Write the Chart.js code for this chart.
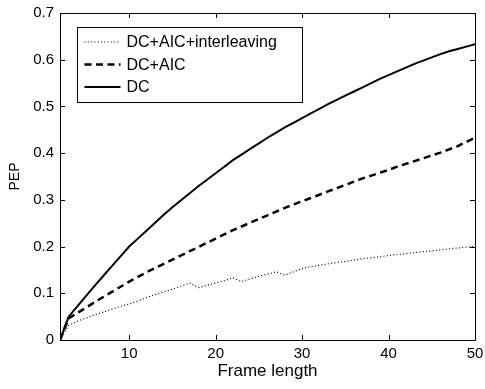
<!DOCTYPE html>
<html>
<head>
<meta charset="utf-8">
<script src="https://cdn.jsdelivr.net/npm/chart.js@4"></script>
<style>
  html, body { margin: 0; padding: 0; background: #fff; }
  #wrap { width: 485px; height: 389px; }
</style>
</head>
<body>
<div id="wrap"><canvas id="pepChart" width="485" height="389"></canvas></div>
<script>
// frame lengths 2..50
const frameLength = [];
for (let n = 2; n <= 50; n++) frameLength.push(n);

const pepInterleave = [0, 0.031, 0.040, 0.047, 0.054, 0.060, 0.066, 0.072, 0.077, 0.083,
  0.091, 0.097, 0.103, 0.109, 0.115, 0.122, 0.112, 0.117, 0.122, 0.127,
  0.133, 0.125, 0.131, 0.136, 0.141, 0.146, 0.139, 0.146, 0.153, 0.157,
  0.160, 0.163, 0.166, 0.168, 0.171, 0.174, 0.176, 0.178, 0.181, 0.183,
  0.185, 0.187, 0.189, 0.191, 0.193, 0.195, 0.197, 0.199, 0.200];

const pepAic = [0, 0.046, 0.058, 0.069, 0.081, 0.092, 0.103, 0.114, 0.125, 0.135,
  0.145, 0.154, 0.163, 0.172, 0.181, 0.190, 0.199, 0.208, 0.217, 0.226,
  0.235, 0.243, 0.251, 0.259, 0.267, 0.275, 0.283, 0.290, 0.297, 0.304,
  0.311, 0.318, 0.325, 0.332, 0.339, 0.346, 0.352, 0.358, 0.364, 0.371,
  0.377, 0.383, 0.389, 0.395, 0.401, 0.408, 0.415, 0.424, 0.433];

const pepDc = [0, 0.050, 0.072, 0.094, 0.116, 0.137, 0.158, 0.179, 0.200, 0.217,
  0.234, 0.251, 0.268, 0.284, 0.299, 0.314, 0.329, 0.343, 0.357, 0.371,
  0.385, 0.397, 0.409, 0.421, 0.433, 0.444, 0.455, 0.465, 0.475, 0.485,
  0.495, 0.505, 0.514, 0.523, 0.532, 0.541, 0.550, 0.559, 0.567, 0.575,
  0.583, 0.591, 0.598, 0.605, 0.612, 0.618, 0.623, 0.628, 0.633];

const seriesNames = ['DC+AIC+interleaving', 'DC+AIC', 'DC'];
const xTicks = [10, 20, 30, 40, 50];
const yTicks = [0, 0.1, 0.2, 0.3, 0.4, 0.5, 0.6, 0.7];

const FONT = '"Liberation Sans", Arial, Helvetica, sans-serif';

function pts(ys) {
  return frameLength.map((x, i) => ({ x: x, y: ys[i] }));
}

// matlab style box, inward ticks and legend
const matlabAxes = {
  id: 'matlabAxes',
  afterDraw(chart) {
    const ctx = chart.ctx;
    const a = chart.chartArea;
    const xs = chart.scales.x, ys = chart.scales.y;
    ctx.save();
    ctx.strokeStyle = '#000';
    ctx.lineWidth = 1;
    ctx.beginPath();
    ctx.rect(Math.round(a.left) + 0.5, Math.round(a.top) + 0.5,
      Math.round(a.right - a.left), Math.round(a.bottom - a.top));
    ctx.stroke();
    const tl = 5;
    ctx.beginPath();
    xTicks.forEach(v => {
      const px = Math.round(xs.getPixelForValue(v)) + 0.5;
      ctx.moveTo(px, a.bottom); ctx.lineTo(px, a.bottom - tl);
      ctx.moveTo(px, a.top); ctx.lineTo(px, a.top + tl);
    });
    yTicks.forEach(v => {
      const py = Math.round(ys.getPixelForValue(v)) + 0.5;
      ctx.moveTo(a.left, py); ctx.lineTo(a.left + tl, py);
      ctx.moveTo(a.right, py); ctx.lineTo(a.right - tl, py);
    });
    ctx.stroke();

    // legend
    const lx = Math.round(a.left) + 17.5, ly = Math.round(a.top) + 14.5;
    const lw = 225, lh = 75;
    ctx.fillStyle = '#fff';
    ctx.fillRect(lx, ly, lw, lh);
    ctx.strokeRect(lx, ly, lw, lh);
    ctx.font = '16px ' + FONT;
    ctx.textBaseline = 'middle';
    chart.data.datasets.forEach((ds, i) => {
      const ry = ly + 14.5 + i * 22.5;
      ctx.save();
      ctx.strokeStyle = ds.borderColor;
      ctx.lineWidth = ds.borderWidth;
      ctx.setLineDash(ds.borderDash || []);
      ctx.beginPath();
      ctx.moveTo(lx + 7, ry);
      ctx.lineTo(lx + 43, ry);
      ctx.stroke();
      ctx.restore();
      ctx.fillStyle = '#000';
      ctx.fillText(ds.label, lx + 49, ry + 1);
    });
    ctx.restore();
  }
};

new Chart(document.getElementById('pepChart'), {
  type: 'line',
  data: {
    datasets: [{
      label: seriesNames[0],
      data: pts(pepInterleave),
      borderColor: '#000',
      borderWidth: 1.2,
      borderDash: [1, 2.3],
      pointRadius: 0
    }, {
      label: seriesNames[1],
      data: pts(pepAic),
      borderColor: '#000',
      borderWidth: 2.5,
      borderDash: [7, 4.5],
      pointRadius: 0
    }, {
      label: seriesNames[2],
      data: pts(pepDc),
      borderColor: '#000',
      borderWidth: 2,
      pointRadius: 0
    }]
  },
  options: {
    responsive: false,
    animation: false,
    layout: { padding: { left: 0, top: 13, right: 10, bottom: 0 } },
    plugins: { legend: { display: false }, tooltip: { enabled: false } },
    scales: {
      x: {
        type: 'linear',
        min: 2,
        max: 50,
        afterBuildTicks: s => { s.ticks = xTicks.map(v => ({ value: v })); },
        afterFit: s => { s.height = 49; s.paddingRight = 0; s.paddingLeft = 0; },
        grid: { display: false, drawTicks: false },
        border: { display: false },
        ticks: { color: '#000', font: { family: FONT, size: 15 }, padding: 5, maxRotation: 0 },
        title: { display: true, text: 'Frame length', color: '#000',
          font: { family: FONT, size: 17 }, padding: { top: 0, bottom: 7 } }
      },
      y: {
        min: 0,
        max: 0.7,
        afterBuildTicks: s => { s.ticks = yTicks.map(v => ({ value: v })); },
        afterFit: s => { s.width = 60; s.paddingTop = 0; s.paddingBottom = 0; },
        grid: { display: false, drawTicks: false },
        border: { display: false },
        ticks: { color: '#000', font: { family: FONT, size: 15 }, padding: 6 },
        title: { display: true, text: 'PEP', color: '#000',
          font: { family: FONT, size: 14 }, padding: { top: 7, bottom: 0 } }
      }
    }
  },
  plugins: [matlabAxes]
});
</script>
</body>
</html>
